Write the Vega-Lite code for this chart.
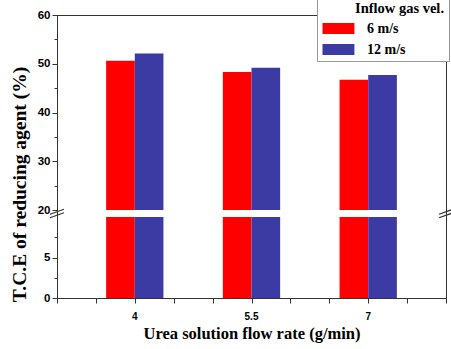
{
  "$schema": "https://vega.github.io/schema/vega-lite/v6.json",
  "width": 389,
  "height": 283,
  "autosize": "none",
  "padding": {"left": 57, "top": 15, "right": 5, "bottom": 51},
  "config": {
    "view": {"stroke": "#333", "strokeWidth": 1},
    "axis": {
      "grid": false,
      "labelFont": "Liberation Sans",
      "labelFontWeight": "bold",
      "labelColor": "black",
      "titleFont": "Liberation Serif",
      "titleFontWeight": "bold",
      "titleColor": "black",
      "titleFontSize": 16,
      "tickColor": "#333",
      "domainColor": "#333",
      "zindex": 1
    }
  },
  "layer": [
    {
      "data": {
        "values": [
          {"rate": "4", "vel": "6 m/s", "tce": 50.6},
          {"rate": "4", "vel": "12 m/s", "tce": 52.1},
          {"rate": "5.5", "vel": "6 m/s", "tce": 48.3},
          {"rate": "5.5", "vel": "12 m/s", "tce": 49.2},
          {"rate": "7", "vel": "6 m/s", "tce": 46.7},
          {"rate": "7", "vel": "12 m/s", "tce": 47.7}
        ]
      },
      "mark": {"type": "bar", "strokeWidth": 0},
      "encoding": {
        "x": {
          "field": "rate",
          "type": "nominal",
          "sort": ["4", "5.5", "7"],
          "scale": {"paddingInner": 0.509, "paddingOuter": 0.421},
          "axis": {
            "orient": "bottom",
            "ticks": false,
            "tickSize": 0,
            "labelAngle": 0,
            "labelFontSize": 10,
            "labelPadding": 13,
            "domain": true,
            "title": "Urea solution flow rate (g/min)",
            "titleFontSize": 16.5,
            "titleBaseline": "alphabetic",
            "titleY": 40
          }
        },
        "xOffset": {
          "field": "vel",
          "type": "nominal",
          "sort": ["6 m/s", "12 m/s"],
          "scale": {"paddingInner": 0, "paddingOuter": 0}
        },
        "y": {
          "field": "tce",
          "type": "quantitative",
          "scale": {"domain": [0, 10, 20, 60], "range": [283, 202, 195, 0], "nice": false, "zero": false},
          "axis": {
            "orient": "left",
            "values": [0, 5, 20, 30, 40, 50, 60],
            "tickSize": 5,
            "labelPadding": 2,
            "labelFontSize": 11.5,
            "domain": true,
            "title": "T.C.E of reducing agent (%)",
            "titleFontSize": 19.5,
            "titleAngle": -90,
            "titleBaseline": "alphabetic",
            "titleAlign": "center",
            "titleX": -32,
            "titleY": 169
          }
        },
        "color": {
          "field": "vel",
          "type": "nominal",
          "sort": ["6 m/s", "12 m/s"],
          "scale": {"domain": ["6 m/s", "12 m/s"], "range": ["#ff0000", "#3b3ba3"]},
          "legend": {
            "orient": "none",
            "legendX": 260,
            "legendY": -17,
            "title": "Inflow gas vel.",
            "titleFont": "Liberation Serif",
            "titleFontWeight": "bold",
            "titleFontSize": 14.5,
            "titleColor": "black",
            "titleAnchor": "start",
            "titlePadding": 5,
            "labelFont": "Liberation Serif",
            "labelFontWeight": "bold",
            "labelFontSize": 14,
            "labelColor": "black",
            "labelOffset": 32,
            "symbolType": "M-1,-1H4.8V1H-1Z",
            "symbolSize": 121,
            "symbolStrokeWidth": 0,
            "symbolOpacity": 1,
            "rowPadding": 7,
            "padding": 4,
            "fillColor": "white",
            "strokeColor": "#999",
            "encode": {"title": {"update": {"dx": {"value": 34}}}}
          }
        }
      }
    },
    {
      "data": {"values": [{"gap": "break"}]},
      "mark": {"type": "rect", "fill": "white", "strokeWidth": 0},
      "encoding": {
        "x": {"datum": 0.03, "type": "quantitative", "scale": {"domain": [0, 10], "nice": false, "zero": false}, "axis": null},
        "x2": {"datum": 9.97},
        "y": {"datum": 10, "type": "quantitative", "scale": {"domain": [0, 10, 20, 60], "range": [283, 202, 195, 0], "nice": false, "zero": false}, "axis": null},
        "y2": {"datum": 20}
      }
    },
    {
      "data": {"values": [{"pos": 0}, {"pos": 10}]},
      "mark": {"type": "point", "shape": "M-1,0.1L1,-0.6M-1,0.6L1,-0.1", "filled": false, "stroke": "#333", "strokeWidth": 1.2, "size": 196, "opacity": 1},
      "encoding": {
        "x": {
          "field": "pos",
          "type": "quantitative",
          "scale": {"domain": [0, 10], "nice": false, "zero": false},
          "axis": {"orient": "bottom", "values": [0, 1, 2, 3, 4, 5, 6, 7, 8, 9, 10], "tickSize": 5, "labels": false, "domain": false, "title": null}
        },
        "y": {
          "datum": 15,
          "type": "quantitative",
          "scale": {"domain": [0, 10, 20, 60], "range": [283, 202, 195, 0], "nice": false, "zero": false},
          "axis": {"orient": "left", "values": [2.5, 7.5, 25, 35, 45, 55], "tickSize": 3, "labels": false, "domain": false, "title": null}
        }
      }
    }
  ],
  "resolve": {
    "scale": {"x": "independent", "y": "independent"},
    "axis": {"x": "independent", "y": "independent"}
  }
}
